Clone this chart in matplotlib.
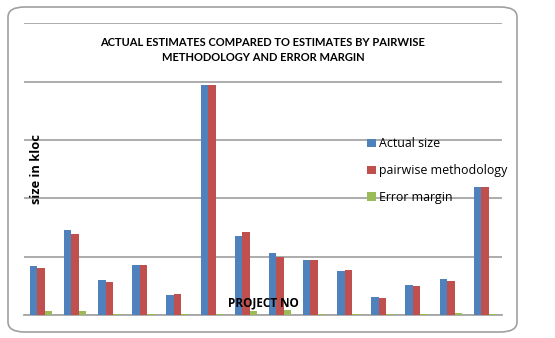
import matplotlib
matplotlib.use("Agg")
import matplotlib.pyplot as plt
import numpy as np
from matplotlib.patches import FancyBboxPatch, Patch

projects = [str(i) for i in range(1, 15)]
actual_size = [84, 145, 60, 86, 34, 394, 136, 106, 95, 75, 30, 51, 62, 219]
pairwise = [80.6, 139, 57, 86, 36, 394, 142, 99, 95, 77, 29, 49, 58, 219]
error_margin = [6.3, 6.3, 2.3, 2.3, 2.3, 2.3, 6.3, 8, 2.3, 2.3, 2.3, 2.3, 4, 2.3]
series_names = ["Actual size", "pairwise methodology", "Error margin"]
colors = ["#4F81BD", "#C0504D", "#9BBB59"]

W, H = 555, 338
fig = plt.figure(figsize=(W / 100, H / 100), dpi=100)
ax = fig.add_axes([24 / W, 1 - 315 / H, (502 - 24) / W, (315 - 23.3) / H])

x = np.arange(len(projects))
bw = 0.22
for i, (vals, c) in enumerate(zip([actual_size, pairwise, error_margin], colors)):
    ax.bar(x + (i - 1) * bw, vals, width=bw, color=c, zorder=3)

ax.set_xlim(-0.5, len(projects) - 0.5)
ax.set_ylim(0, 500)
ax.set_yticks([0, 100, 200, 300, 400, 500])
ax.yaxis.grid(True, color="#a6a6a6", linewidth=1.3, zorder=0)
ax.tick_params(left=False, bottom=False, labelleft=False, labelbottom=False)
for s in ["left", "right", "top"]:
    ax.spines[s].set_visible(False)
ax.spines["bottom"].set_color("#a6a6a6")
ax.spines["bottom"].set_linewidth(1.3)

fig.text(263 / W, 1 - 50 / H,
         "ACTUAL ESTIMATES COMPARED TO ESTIMATES BY PAIRWISE\nMETHODOLOGY AND ERROR MARGIN",
         ha="center", va="center", fontsize=8, fontweight="bold", family="Lato",
         linespacing=1.45)
fig.text(36 / W, 1 - 169 / H, "size in kloc", rotation=90, ha="center", va="center",
         fontsize=9.3, fontweight="bold", family="Open Sans")
fig.text(263 / W, 1 - 303 / H, "PROJECT NO", ha="center", va="center",
         fontsize=8.5, fontweight="bold", family="Open Sans")

handles = [Patch(facecolor=c, edgecolor="none") for c in colors]
leg = fig.legend(handles, series_names, loc="upper left",
                 bbox_to_anchor=(362 / W, 1 - 132.5 / H), frameon=False,
                 prop={"family": "Open Sans", "size": 8.9},
                 handlelength=0.7, handleheight=0.7, handletextpad=0.3,
                 labelspacing=1.12, borderaxespad=0)

border = FancyBboxPatch((8 / W, 1 - 332 / H), (517 - 8) / W, (332 - 7) / H,
                        boxstyle="round,pad=0,rounding_size=0.03",
                        transform=fig.transFigure, facecolor="none",
                        edgecolor="#a0a0a0", linewidth=1.2)
fig.patches.append(border)

fig.savefig("out.png", dpi=100)
